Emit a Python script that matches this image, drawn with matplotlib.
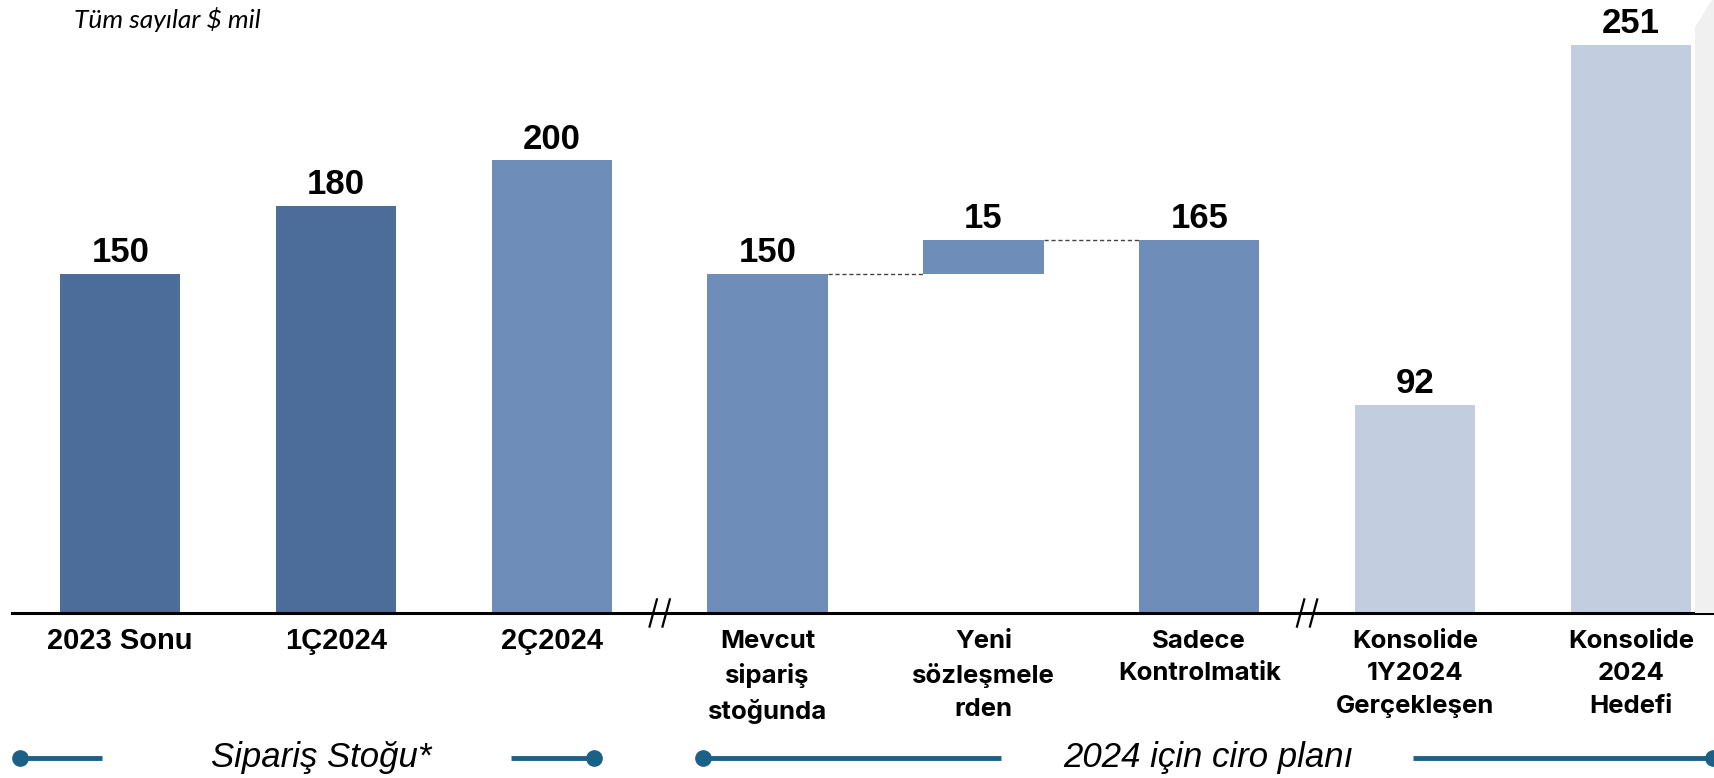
import matplotlib
matplotlib.use("Agg")
import matplotlib.pyplot as plt
from matplotlib.patches import Polygon

# veriler ($ mil)
categories = ["2023 Sonu", "1Ç2024", "2Ç2024",
              "Mevcut\nsipariş\nstoğunda", "Yeni\nsözleşmele\nrden",
              "Sadece\nKontrolmatik", "Konsolide\n1Y2024\nGerçekleşen",
              "Konsolide\n2024\nHedefi"]
values = [150, 180, 200, 150, 15, 165, 92, 251]
bottoms = [0, 0, 0, 0, 150, 0, 0, 0]
colors = ["#4C6C9A", "#4C6C9A", "#6E8EB9", "#6E8EB9", "#6E8EB9",
          "#6E8EB9", "#C2CDE0", "#C2CDE0"]
breaks = [2.5, 5.5]
groups = ["Sipariş Stoğu*", "2024 için ciro planı"]

W, H = 1714, 778
fig = plt.figure(figsize=(W / 100, H / 100), dpi=100)
ax = fig.add_axes([0, 0, 1, 1])
ax.axis("off")

# eksen ölçekleri (piksel -> veri)
px_x = 215.8
x0 = 120.2
px_y = 2.263
base = 165
ax.set_xlim(-x0 / px_x, (W - x0) / px_x)
ax.set_ylim(-base / px_y, (H - base) / px_y)

# sağ kenardaki gri şerit
fig.patches.append(Polygon([(1695 / W, base / H), (1695 / W, (H - 27) / H),
                            (1712 / W, 1.0), (1.0, 1.0), (1.0, base / H)],
                           closed=True, transform=fig.transFigure,
                           facecolor="#F0F0F0", edgecolor="none", zorder=0))

xs = list(range(len(values)))
bw = 0.557
ax.bar(xs, values, bottom=bottoms, width=bw, color=colors, zorder=2)

for i, (v, b) in enumerate(zip(values, bottoms)):
    ax.text(xs[i], v + b + 2, str(v), ha="center", va="bottom",
            fontsize=25, fontweight="bold", family="Liberation Sans")

# kademeli bağlantı çizgileri
ax.plot([xs[3] + bw / 2, xs[4] - bw / 2], [values[3], values[3]],
        ls=(0, (3, 2)), color="#444444", lw=1)
ax.plot([xs[4] + bw / 2, xs[5] - bw / 2], [values[4] + bottoms[4]] * 2,
        ls=(0, (3, 2)), color="#444444", lw=1)

# taban çizgisi ve kırılma işaretleri
ax.plot([-0.5, 8], [0, 0], color="black", lw=2.2, zorder=3)
for bx in breaks:
    for dx in (-0.03, 0.03):
        ax.plot([bx + dx - 0.017, bx + dx + 0.017], [-6, 6],
                color="black", lw=1.6, zorder=4)

# kategori etiketleri
for i, lab in enumerate(categories):
    if i < 3:
        ax.text(xs[i], -6, lab, ha="center", va="top", fontsize=21,
                fontweight="bold",
                family=["Liberation Sans Narrow", "Liberation Sans"])
    else:
        ax.text(xs[i], -7.5, lab, ha="center", va="top", fontsize=18.5,
                fontweight="bold", family="Inter", linespacing=1.52)

ax.text(74 / W, 1 - 19 / H, "Tüm sayılar $ mil", transform=fig.transFigure,
        ha="left", va="center", fontsize=19, style="italic", family="Lato")

# alt gruplama çizgileri
lc = "#1B6087"
yb = (20.5 - base) / px_y
brackets = [(-0.466, -0.086, 0.93, 1.813, 2.194),
            (2.70, 4.08, 5.04, 5.99, 7.38)]
for (a, b, c, d, e), g in zip(brackets, groups):
    ax.plot([a, b], [yb, yb], color=lc, lw=3.5, solid_capstyle="butt")
    ax.plot([d, e], [yb, yb], color=lc, lw=3.5, solid_capstyle="butt")
    ax.plot([a, e], [yb, yb], "o", color=lc, ms=11, clip_on=False)
    ax.text(c, yb, g, ha="center", va="center", fontsize=25, style="italic",
            family=["Liberation Sans Narrow", "Liberation Sans"])

fig.savefig("out.png", dpi=100)
